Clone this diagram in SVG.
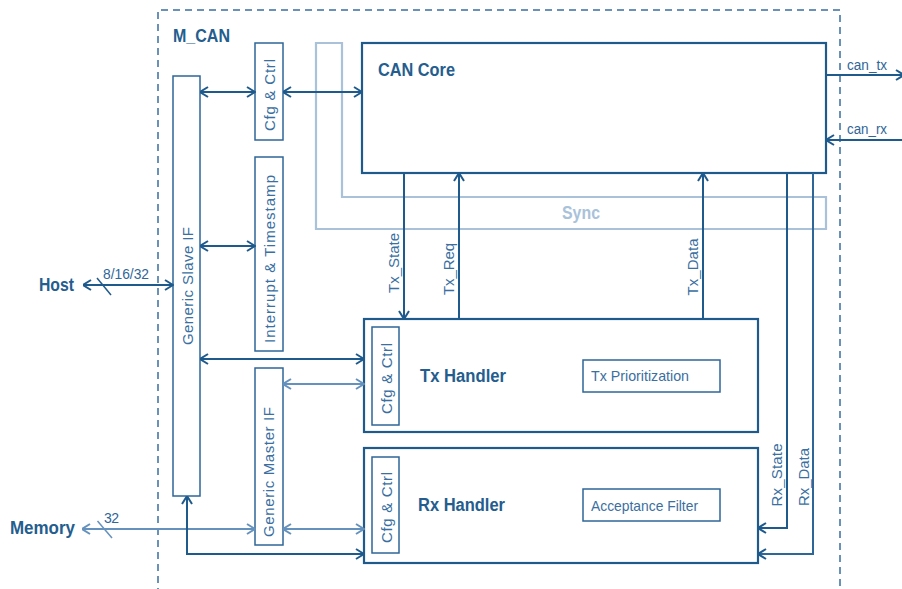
<svg xmlns="http://www.w3.org/2000/svg" width="902" height="589" viewBox="0 0 902 589">
<style>
text{font-family:"Liberation Sans",Arial,sans-serif;}
.bg{fill:#ffffff}
.box{fill:#ffffff;stroke:#2f6698;stroke-width:1.5}
.big{fill:#ffffff;stroke:#1f5a8c;stroke-width:2.2}
.title{font-weight:bold;font-size:18px;fill:#245d8e}
.lbl{font-size:15px;fill:#3a6f9f}
.rot{font-size:15px;fill:#3a6f9f;dominant-baseline:central;text-anchor:middle}
.small{font-size:14px;fill:#2f6698}
.dk{fill:none;stroke:#1f5a8c;stroke-width:2}
.lt{fill:none;stroke:#6592bd;stroke-width:2}
.sync{fill:none;stroke:#a9c2da;stroke-width:2.2}
</style>
<defs>
<marker id="ad" viewBox="0 0 10 12" refX="9.5" refY="6" markerWidth="10" markerHeight="12" markerUnits="userSpaceOnUse" orient="auto-start-reverse">
<path d="M1.5,1 L9.5,6 L1.5,11" fill="none" stroke="#1f5a8c" stroke-width="2"/>
</marker>
<marker id="al" viewBox="0 0 10 12" refX="9.5" refY="6" markerWidth="10" markerHeight="12" markerUnits="userSpaceOnUse" orient="auto-start-reverse">
<path d="M1.5,1 L9.5,6 L1.5,11" fill="none" stroke="#6592bd" stroke-width="2"/>
</marker>
</defs>
<rect class="bg" x="0" y="0" width="902" height="589"/>

<g id="m_can">
<path d="M158,595 L158,10 L840,10 L840,595" fill="none" stroke="#3a6f9f" stroke-width="1.5" stroke-dasharray="7,5"/>
<text class="title" x="173" y="42" textLength="57" lengthAdjust="spacingAndGlyphs">M_CAN</text>
</g>

<g id="sync">
<path class="sync" d="M316,43 L342,43 L342,197 L826,197 L826,229 L316,229 Z"/>
<text x="562" y="219" style="font-weight:bold;font-size:18px;fill:#a9c2da" textLength="38" lengthAdjust="spacingAndGlyphs">Sync</text>
</g>

<g id="can_core">
<rect class="big" x="362" y="43" width="464" height="130"/>
<text class="title" x="378" y="76" textLength="77" lengthAdjust="spacingAndGlyphs">CAN Core</text>
</g>

<g id="generic_slave_if">
<rect class="box" x="173" y="76" width="27" height="420"/>
<text class="rot" x="187" y="286" transform="rotate(-90 187 286)" textLength="118">Generic Slave IF</text>
</g>

<g id="cfg_ctrl_top">
<rect class="box" x="255" y="43" width="28" height="97"/>
<text class="rot" x="269" y="95" transform="rotate(-90 269 95)" textLength="72">Cfg &amp; Ctrl</text>
</g>

<g id="interrupt_timestamp">
<rect class="box" x="255" y="157" width="28" height="194"/>
<text class="rot" x="269.5" y="259" transform="rotate(-90 269.5 259)" textLength="168">Interrupt &amp; Timestamp</text>
</g>

<g id="generic_master_if">
<rect class="box" x="255" y="368" width="28" height="177"/>
<text class="rot" x="268.5" y="472" transform="rotate(-90 268.5 472)" textLength="130">Generic Master IF</text>
</g>

<g id="tx_handler">
<rect class="big" x="364" y="319" width="394" height="113"/>
<rect class="box" x="372" y="327" width="27" height="98"/>
<text class="rot" x="386" y="378.5" transform="rotate(-90 386 378.5)" textLength="71">Cfg &amp; Ctrl</text>
<text class="title" x="420" y="382" textLength="86" lengthAdjust="spacingAndGlyphs">Tx Handler</text>
<rect class="box" x="583" y="360" width="137" height="32"/>
<text class="lbl" x="591" y="381" textLength="98" lengthAdjust="spacingAndGlyphs">Tx Prioritization</text>
</g>

<g id="rx_handler">
<rect class="big" x="364" y="448" width="394" height="115"/>
<rect class="box" x="372" y="457" width="27" height="96"/>
<text class="rot" x="386" y="507.5" transform="rotate(-90 386 507.5)" textLength="71">Cfg &amp; Ctrl</text>
<text class="title" x="418" y="511" textLength="87" lengthAdjust="spacingAndGlyphs">Rx Handler</text>
<rect class="box" x="583" y="489" width="137" height="32"/>
<text class="lbl" x="591" y="511" textLength="107" lengthAdjust="spacingAndGlyphs">Acceptance Filter</text>
</g>

<g id="host">
<text x="39" y="291" style="font-weight:bold;font-size:19px;fill:#245d8e" textLength="35" lengthAdjust="spacingAndGlyphs">Host</text>
</g>

<g id="memory">
<text x="10" y="534" style="font-weight:bold;font-size:19px;fill:#245d8e" textLength="65" lengthAdjust="spacingAndGlyphs">Memory</text>
</g>

<g id="connectors">
<path class="dk" d="M200,92 L255,92" marker-start="url(#ad)" marker-end="url(#ad)"/>
<path class="dk" d="M283,92 L362,92" marker-start="url(#ad)" marker-end="url(#ad)"/>
<path class="dk" d="M200,246 L255,246" marker-start="url(#ad)" marker-end="url(#ad)"/>
<path class="dk" d="M200,359 L364,359" marker-start="url(#ad)" marker-end="url(#ad)"/>
<path class="lt" d="M283,384 L364,384" marker-start="url(#al)" marker-end="url(#al)"/>
<path class="lt" d="M283,529 L364,529" marker-start="url(#al)" marker-end="url(#al)"/>
<path class="lt" d="M82,529 L255,529" marker-start="url(#al)" marker-end="url(#al)"/>
<path d="M97.5,521 L112,538" stroke="#6592bd" stroke-width="1.5"/>
<text class="small" x="104" y="523" textLength="15">32</text>
<path class="dk" d="M187,496 L187,554 L364,554" marker-start="url(#ad)" marker-end="url(#ad)"/>
<path class="dk" d="M83,285 L173,285" marker-start="url(#ad)" marker-end="url(#ad)"/>
<path d="M97,278 L111,295" stroke="#1f5a8c" stroke-width="1.5"/>
<text class="small" x="103" y="279" textLength="46" lengthAdjust="spacingAndGlyphs">8/16/32</text>

<path class="dk" d="M404,173 L404,319" marker-end="url(#ad)"/>
<text class="rot" x="393" y="263" transform="rotate(-90 393 263)" textLength="60">Tx_State</text>
<path class="dk" d="M459,319 L459,173" marker-end="url(#ad)"/>
<text class="rot" x="448" y="269" transform="rotate(-90 448 269)" textLength="52">Tx_Req</text>
<path class="dk" d="M703,319 L703,173" marker-end="url(#ad)"/>
<text class="rot" x="692.5" y="267" transform="rotate(-90 692.5 267)" textLength="57">Tx_Data</text>
<path class="dk" d="M787,173 L787,528 L758,528" marker-end="url(#ad)"/>
<text class="rot" x="776" y="475" transform="rotate(-90 776 475)" textLength="63">Rx_State</text>
<path class="dk" d="M813,173 L813,554 L758,554" marker-end="url(#ad)" style="stroke:#2f6698"/>
<text class="rot" x="803" y="477" transform="rotate(-90 803 477)" textLength="58">Rx_Data</text>

<path class="dk" d="M826,75 L904,75" marker-end="url(#ad)"/>
<text class="small" x="847" y="70" textLength="40" lengthAdjust="spacingAndGlyphs">can_tx</text>
<path class="dk" d="M902,140 L826,140" marker-end="url(#ad)"/>
<text class="small" x="847" y="134" textLength="40" lengthAdjust="spacingAndGlyphs">can_rx</text>
</g>
</svg>
